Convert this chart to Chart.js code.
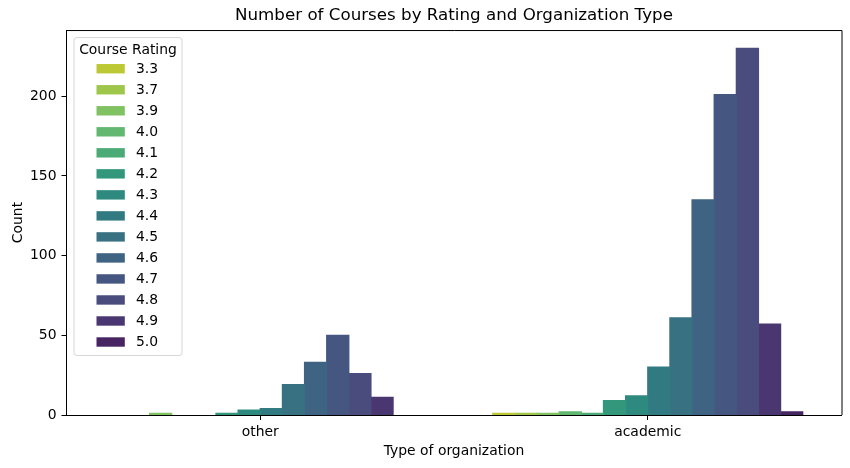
<!DOCTYPE html>
<html>
<head>
<meta charset="utf-8">
<script src="https://cdn.jsdelivr.net/npm/chart.js@4.4.1/dist/chart.umd.min.js"></script>
<style>
  html, body { margin: 0; padding: 0; background: #ffffff; }
  #wrap { width: 850px; height: 468px; position: relative; }
</style>
</head>
<body>
<div id="wrap"><canvas id="chart"></canvas></div>
<script>
// ---- Data ----
const organizationTypes = ['other', 'academic'];
const courseRatings = ['3.3', '3.7', '3.9', '4.0', '4.1', '4.2', '4.3', '4.4', '4.5', '4.6', '4.7', '4.8', '4.9', '5.0'];
const otherCounts    = [0, 0, 1, 0, 0, 1, 3, 4, 19, 33, 50, 26, 11, 0];
const academicCounts = [1, 1, 1, 2, 1, 9, 12, 30, 61, 135, 201, 230, 57, 2];
const yTickValues = [0, 50, 100, 150, 200];

// ---- Palette (viridis_r samples, desaturated like seaborn) ----
const baseColors = ['#d2e21b', '#a5db36', '#7ad151', '#54c568', '#3bbb75', '#22a884', '#1f988b',
                    '#25858e', '#2a788e', '#32648e', '#3b528b', '#414487', '#472d7b', '#481b6d'];

function desaturate(hex, prop) {
  let r = parseInt(hex.slice(1, 3), 16) / 255;
  let g = parseInt(hex.slice(3, 5), 16) / 255;
  let b = parseInt(hex.slice(5, 7), 16) / 255;
  const max = Math.max(r, g, b), min = Math.min(r, g, b);
  let h = 0, s = 0;
  const l = (max + min) / 2;
  if (max !== min) {
    const d = max - min;
    s = l > 0.5 ? d / (2 - max - min) : d / (max + min);
    if (max === r) h = (g - b) / d + (g < b ? 6 : 0);
    else if (max === g) h = (b - r) / d + 2;
    else h = (r - g) / d + 4;
    h /= 6;
  }
  s *= prop;
  function hue2rgb(p, q, t) {
    if (t < 0) t += 1;
    if (t > 1) t -= 1;
    if (t < 1 / 6) return p + (q - p) * 6 * t;
    if (t < 1 / 2) return q;
    if (t < 2 / 3) return p + (q - p) * (2 / 3 - t) * 6;
    return p;
  }
  let rr, gg, bb;
  if (s === 0) { rr = gg = bb = l; }
  else {
    const q = l < 0.5 ? l * (1 + s) : l + s - l * s;
    const p = 2 * l - q;
    rr = hue2rgb(p, q, h + 1 / 3);
    gg = hue2rgb(p, q, h);
    bb = hue2rgb(p, q, h - 1 / 3);
  }
  return 'rgb(' + Math.round(rr * 255) + ',' + Math.round(gg * 255) + ',' + Math.round(bb * 255) + ')';
}
const colors = baseColors.map(c => desaturate(c, 0.75));

const datasets = courseRatings.map((r, i) => ({
  label: r,
  data: [otherCounts[i], academicCounts[i]],
  backgroundColor: colors[i],
  borderWidth: 0,
  inflateAmount: (ctx) => (ctx.raw ? 0.6 : 0),
  categoryPercentage: 0.8,
  barPercentage: 1.0
}));

const FONT = 'DejaVu Sans';
const FS = 13.9;

// frame (top and right spines)
const framePlugin = {
  id: 'frame',
  afterDraw(chart) {
    const { ctx, chartArea: a } = chart;
    ctx.save();
    ctx.strokeStyle = '#000';
    ctx.lineWidth = 1;
    ctx.beginPath();
    ctx.moveTo(a.left, a.top + 0.5);
    ctx.lineTo(a.right + 0.5, a.top + 0.5);
    ctx.lineTo(a.right + 0.5, a.bottom);
    ctx.stroke();
    ctx.restore();
  }
};

// legend drawn inside the axes, matplotlib style
const legendPlugin = {
  id: 'mplLegend',
  afterDraw(chart) {
    const { ctx, chartArea: a } = chart;
    const x0 = a.left + 7.5, y0 = a.top + 7.5;
    const w = 108, h = 318;
    const r = 3;
    ctx.save();
    ctx.beginPath();
    ctx.moveTo(x0 + r, y0);
    ctx.lineTo(x0 + w - r, y0);
    ctx.arcTo(x0 + w, y0, x0 + w, y0 + r, r);
    ctx.lineTo(x0 + w, y0 + h - r);
    ctx.arcTo(x0 + w, y0 + h, x0 + w - r, y0 + h, r);
    ctx.lineTo(x0 + r, y0 + h);
    ctx.arcTo(x0, y0 + h, x0, y0 + h - r, r);
    ctx.lineTo(x0, y0 + r);
    ctx.arcTo(x0, y0, x0 + r, y0, r);
    ctx.closePath();
    ctx.fillStyle = 'rgba(255,255,255,0.8)';
    ctx.fill();
    ctx.strokeStyle = '#d6d6d6';
    ctx.lineWidth = 1;
    ctx.stroke();

    ctx.fillStyle = '#000';
    ctx.font = FS + 'px "' + FONT + '"';
    ctx.textAlign = 'center';
    ctx.textBaseline = 'middle';
    ctx.fillText('Course Rating', x0 + w / 2, y0 + 12.5);

    ctx.textAlign = 'left';
    chart.data.datasets.forEach((ds, i) => {
      const cy = y0 + 31.2 + i * 21.02;
      ctx.fillStyle = ds.backgroundColor;
      ctx.fillRect(x0 + 22.5, cy - 4.7, 28.3, 9.4);
      ctx.fillStyle = '#000';
      ctx.fillText(ds.label, x0 + 62, cy + 0.5);
    });
    ctx.restore();
  }
};

new Chart(document.getElementById('chart'), {
  type: 'bar',
  data: { labels: organizationTypes, datasets },
  options: {
    responsive: true,
    maintainAspectRatio: false,
    animation: false,
    layout: { padding: { left: 0, right: 8.5, top: 0, bottom: 0 } },
    plugins: {
      legend: { display: false },
      tooltip: { enabled: false },
      title: {
        display: true,
        text: 'Number of Courses by Rating and Organization Type',
        fullSize: false,
        color: '#000',
        font: { family: FONT, size: 16.7, weight: 'normal', lineHeight: 1.2 },
        padding: { top: 6, bottom: 4 }
      }
    },
    scales: {
      x: {
        offset: true,
        grid: { display: true, drawOnChartArea: false, drawTicks: true, tickLength: 5, color: '#000', offset: false },
        border: { display: true, color: '#000', width: 1 },
        ticks: { color: '#000', padding: 4, font: { family: FONT, size: FS } },
        title: { display: true, text: 'Type of organization', color: '#000', font: { family: FONT, size: FS }, padding: { top: 0, bottom: 8.6 } },
        afterFit(scale) { scale.height = 53; }
      },
      y: {
        min: 0,
        max: 241.5,
        afterBuildTicks(scale) { scale.ticks = yTickValues.map(v => ({ value: v })); },
        grid: { display: true, drawOnChartArea: false, drawTicks: true, tickLength: 5, color: '#000' },
        border: { display: true, color: '#000', width: 1 },
        ticks: { color: '#000', padding: 5, font: { family: FONT, size: FS } },
        title: { display: true, text: 'Count', color: '#000', font: { family: FONT, size: FS }, padding: { top: 9.7, bottom: 0 } },
        afterFit(scale) { scale.width = 66.5; }
      }
    }
  },
  plugins: [framePlugin, legendPlugin]
});
</script>
</body>
</html>
